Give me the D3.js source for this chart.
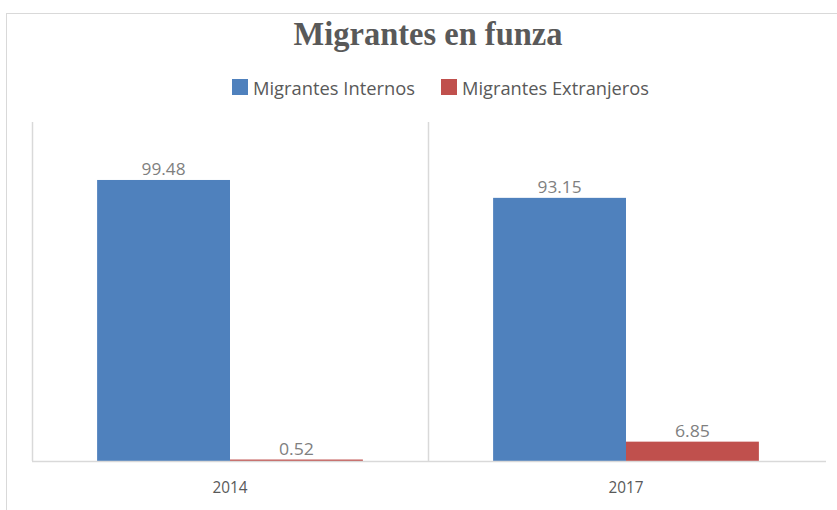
<!DOCTYPE html>
<html><head><meta charset="utf-8">
<script src="https://cdn.jsdelivr.net/npm/d3@7"></script>
<style>body{margin:0;background:#fff}svg{display:block}</style>
</head><body>
<script>
const categories = ["2014", "2017"];
const seriesNames = ["Migrantes Internos", "Migrantes Extranjeros"];
const internos = [99.48, 93.15];
const extranjeros = [0.52, 6.85];
const colors = ["#4f81bd", "#c0504d"];

const W = 837, H = 510;
const svg = d3.select("body").append("svg").attr("width", W).attr("height", H);

// chart frame
svg.append("rect").attr("x", 6.5).attr("y", 13.5).attr("width", 840).attr("height", 510)
  .attr("fill", "none").attr("stroke", "#d9d9d9");

const plot = {left: 32, right: 824, top: 122, bottom: 461};
const x0 = d3.scaleBand().domain(categories).range([plot.left, plot.right]).paddingInner(0).paddingOuter(0);
const x1 = d3.scaleBand().domain(seriesNames).range([0, x0.bandwidth()]).paddingInner(0).paddingOuter(0.49);
const y = d3.scaleLinear().domain([0, 120]).range([plot.bottom, plot.top]);

// vertical gridlines (category boundaries)
const bounds = categories.map(c => x0(c));
svg.append("g").selectAll("line").data(bounds).join("line")
  .attr("x1", d => d + 0.5).attr("x2", d => d + 0.5)
  .attr("y1", plot.top).attr("y2", plot.bottom)
  .attr("stroke", "#d9d9d9").attr("stroke-width", 1.5);

const data = categories.map((c, i) => ({cat: c, vals: [internos[i], extranjeros[i]]}));

const g = svg.append("g");
data.forEach(d => {
  d.vals.forEach((v, j) => {
    const bx = x0(d.cat) + x1(seriesNames[j]);
    g.append("rect").attr("x", bx).attr("y", y(v)).attr("width", x1.bandwidth())
      .attr("height", plot.bottom - y(v)).attr("fill", colors[j]);
    const lbl = v.toFixed(2);
    g.append("text").attr("x", bx + x1.bandwidth() / 2).attr("y", y(v) - 5)
      .attr("text-anchor", "middle").attr("font-family", "Open Sans, sans-serif")
      .attr("font-size", 16).attr("fill", "#7f7f7f")
      .attr("textLength", lbl.length === 5 ? 44 : 35).attr("lengthAdjust", "spacingAndGlyphs")
      .text(lbl);
  });
});

// x axis
const xAxis = svg.append("g").attr("transform", `translate(0,${plot.bottom})`)
  .call(d3.axisBottom(x0).tickSize(0).tickPadding(20));
xAxis.select(".domain").attr("stroke", "#d9d9d9").attr("stroke-width", 1.5)
  .attr("d", `M${plot.left},0.5H${plot.right + 2}`);
xAxis.selectAll("text").attr("font-family", "Open Sans, sans-serif").attr("font-size", 17)
  .attr("fill", "#595959").attr("textLength", 35).attr("lengthAdjust", "spacingAndGlyphs");

// title
svg.append("text").attr("x", 428).attr("y", 45).attr("text-anchor", "middle")
  .attr("font-family", "Liberation Serif, serif").attr("font-weight", "bold")
  .attr("font-size", 33).attr("fill", "#595959")
  .attr("textLength", 269).attr("lengthAdjust", "spacingAndGlyphs")
  .text("Migrantes en funza");

// legend
const legend = svg.append("g");
const legendItems = [{x: 232, tx: 253, len: 162}, {x: 441, tx: 462, len: 187}];
seriesNames.forEach((s, i) => {
  legend.append("rect").attr("x", legendItems[i].x).attr("y", 79).attr("width", 16).attr("height", 16).attr("fill", colors[i]);
  legend.append("text").attr("x", legendItems[i].tx).attr("y", 95)
    .attr("font-family", "Open Sans, sans-serif").attr("font-size", 19).attr("fill", "#595959")
    .attr("textLength", legendItems[i].len).attr("lengthAdjust", "spacingAndGlyphs").text(s);
});
</script>
</body></html>
